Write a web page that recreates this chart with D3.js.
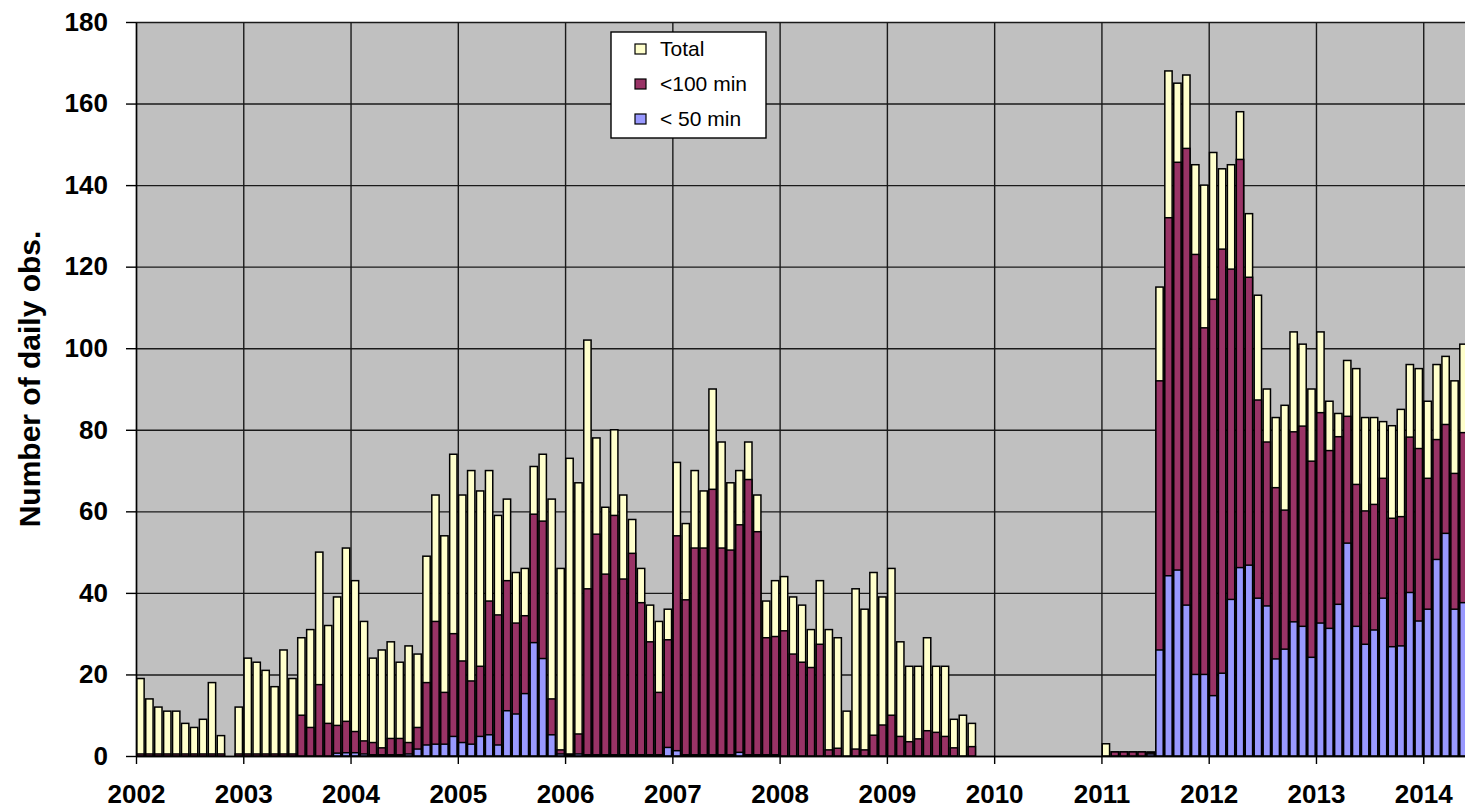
<!DOCTYPE html>
<html>
<head>
<meta charset="utf-8">
<script src="https://cdn.jsdelivr.net/npm/d3@7"></script>
<style>
  body { margin: 0; background: #fff; }
  text { font-family: "Liberation Sans", Arial, sans-serif; }
</style>
</head>
<body>
<div id="wrapper"></div>
<script>
// Monthly counts, Jan 2002 .. May 2014 (one row per year)
var firstYear = 2002
var yearTicks = [2002, 2003, 2004, 2005, 2006, 2007, 2008, 2009, 2010, 2011, 2012, 2013, 2014]
var yTicks = [0, 20, 40, 60, 80, 100, 120, 140, 160, 180]
var seriesNames = ["Total", "<100 min", "< 50 min"]

var total = [
  19, 14, 12, 11, 11, 8, 7, 9, 18, 5, 0, 12,
  24, 23, 21, 17, 26, 19, 29, 31, 50, 32, 39, 51,
  43, 33, 24, 26, 28, 23, 27, 25, 49, 64, 54, 74,
  64, 70, 65, 70, 59, 63, 45, 46, 71, 74, 63, 46,
  73, 67, 102, 78, 61, 80, 64, 58, 46, 37, 33, 36,
  72, 57, 70, 65, 90, 77, 67, 70, 77, 64, 38, 43,
  44, 39, 37, 31, 43, 31, 29, 11, 41, 36, 45, 39,
  46, 28, 22, 22, 29, 22, 22, 9, 10, 8, 0, 0,
  0, 0, 0, 0, 0, 0, 0, 0, 0, 0, 0, 0,
  3, 1, 1, 1, 1, 1, 115, 168, 165, 167, 145, 140,
  148, 144, 145, 158, 133, 113, 90, 83, 86, 104, 101, 90,
  104, 87, 84, 97, 95, 83, 83, 82, 81, 85, 96, 95,
  87, 96, 98, 92, 101
]

var under100 = [
  0.5, 0.5, 0.5, 0.5, 0.5, 0.5, 0.5, 0.5, 0.5, 0.5, 0, 0.5,
  0.5, 0.5, 0.5, 0.5, 0.5, 0.5, 10, 7, 17.5, 8, 7.5, 8.5,
  6, 3.7, 3.3, 2, 4.3, 4.3, 3.3, 7, 18, 33, 15.6, 30,
  23.3, 18.4, 22, 38, 34.6, 43, 32.6, 34.4, 59.3, 57.6, 14, 1.5,
  0.5, 5.4, 41, 54.4, 44.6, 59, 43.4, 49.7, 37.6, 28, 15.6, 28.5,
  54, 38.3, 51, 51, 65.4, 51, 50.5, 56.7, 67.8, 55, 29, 29.3,
  30.7, 25, 23, 21.7, 27.4, 1.5, 1.9, 0, 1.7, 1.5, 5.1, 7.6,
  10, 4.8, 3.5, 4.2, 6.2, 5.8, 4.8, 2, 0, 2.3, 0, 0,
  0, 0, 0, 0, 0, 0, 0, 0, 0, 0, 0, 0,
  0, 1, 1, 1, 1, 0.8, 92, 132, 145.6, 149, 123, 105,
  112, 124.3, 119.4, 146.3, 117.4, 87.3, 77, 65.8, 60.3, 79.5, 80.9, 72.3,
  84.2, 74.9, 78.3, 83.3, 66.6, 60.1, 61.7, 68.1, 58.3, 58.7, 78.2, 75.4,
  68.1, 77.6, 81.3, 69.3, 79.3
]

var under50 = [
  0, 0, 0, 0, 0, 0, 0, 0, 0, 0, 0, 0,
  0, 0, 0, 0, 0, 0, 0, 0, 0, 0, 0.7, 0.8,
  0.8, 0.5, 0.3, 0.3, 0.3, 0.3, 0.5, 1.7, 2.7, 2.9, 2.9, 4.8,
  3.3, 2.9, 4.8, 5.2, 2.7, 11.1, 10.3, 15.3, 27.8, 23.9, 5.2, 0.5,
  0.3, 0.5, 0.3, 0.3, 0.3, 0.3, 0.3, 0.3, 0.3, 0.3, 0.3, 2.1,
  1.3, 0.3, 0.3, 0.3, 0.3, 0.3, 0.3, 0.9, 0.3, 0.3, 0.3, 0.3,
  0, 0, 0, 0, 0, 0, 0, 0, 0, 0, 0, 0,
  0, 0, 0, 0, 0, 0, 0, 0, 0, 0, 0, 0,
  0, 0, 0, 0, 0, 0, 0, 0, 0, 0, 0, 0,
  0, 0, 0, 0, 0, 0.5, 26, 44.2, 45.6, 37, 20, 20,
  14.8, 20.3, 38.4, 46.2, 46.8, 38.7, 36.8, 23.8, 26.2, 32.9, 31.8, 24.2,
  32.6, 31.3, 37.2, 52.2, 31.8, 27.4, 30.9, 38.7, 26.8, 27, 40.1, 33.1,
  36, 48.2, 54.6, 36, 37.6
]

var color = d3.scaleOrdinal()
  .domain(seriesNames)
  .range(["#ffffcc", "#993366", "#9999ff"])

// Set the dimensions and margins of the graph
var margin = { top: 22, right: 0, bottom: 52, left: 136 },
  width = 1465 - margin.left - margin.right,
  height = 808 - margin.top - margin.bottom;

var svg = d3.select("#wrapper")
  .append("svg")
  .attr("width", width + margin.left + margin.right)
  .attr("height", height + margin.top + margin.bottom)

var g = svg.append("g")
  .attr("transform", "translate(" + margin.left + "," + margin.top + ")")

// the plot runs past the right edge of the picture
var x = d3.scaleLinear()
  .domain([2002, 2015])
  .range([0, 13 * 107.27])

var y = d3.scaleLinear()
  .domain([0, 180])
  .range([height, 0])

var plotRight = x(2015)
var slot = x(firstYear + 1 / 12) - x(firstYear)

g.append("rect")
  .attr("width", plotRight)
  .attr("height", height)
  .attr("fill", "#c0c0c0")

// Gridlines
g.append("g")
  .call(d3.axisLeft(y).tickValues(yTicks).tickSize(-plotRight).tickFormat(""))
  .call(g => g.select(".domain").remove())
  .selectAll("line")
  .attr("stroke", "#1a1a1a")
  .attr("stroke-width", 1.4)

g.append("g")
  .attr("transform", "translate(0," + height + ")")
  .call(d3.axisBottom(x).tickValues(yearTicks).tickSize(-height).tickFormat(""))
  .call(g => g.select(".domain").remove())
  .selectAll("line")
  .attr("stroke", "#1a1a1a")
  .attr("stroke-width", 1.4)

// Bars, drawn over each other: total, then <100, then <50
var series = [total, under100, under50]
series.forEach(function (values, k) {
  g.append("g")
    .selectAll("rect")
    .data(values.map(function (v, i) { return { i: i, v: v } }).filter(d => d.v > 0))
    .enter()
    .append("rect")
    .attr("x", d => x(firstYear + d.i / 12) + slot * 0.09)
    .attr("width", slot * 0.82)
    .attr("y", d => y(d.v))
    .attr("height", d => y(0) - y(d.v))
    .attr("fill", color(seriesNames[k]))
    .attr("stroke", "#000")
    .attr("stroke-width", 1.5)
})

// Axes
var yAxis = g.append("g")
  .call(d3.axisLeft(y).tickValues(yTicks).tickSize(10).tickSizeOuter(0).tickPadding(18))
yAxis.selectAll("text")
  .style("font-size", "26px")
  .style("font-weight", "bold")
  .attr("fill", "#000")

var xAxis = g.append("g")
  .attr("transform", "translate(0," + height + ")")
  .call(d3.axisBottom(x).tickValues(yearTicks).tickSize(8).tickSizeOuter(0).tickPadding(21).tickFormat(d3.format("d")))
xAxis.selectAll("text")
  .style("font-size", "26px")
  .style("font-weight", "bold")
  .attr("fill", "#000")

svg.selectAll(".domain, .tick line").filter(function () { return this.getAttribute("stroke") === "currentColor" })
  .attr("stroke-width", 1.4)

// Axis title
svg.append("text")
  .attr("transform", "translate(40," + 379 + ") rotate(-90)")
  .style("text-anchor", "middle")
  .style("font-size", "30px")
  .style("font-weight", "bold")
  .text("Number of daily obs.")

// Legend
var legend = svg.append("g")
  .attr("transform", "translate(611,32)")

legend.append("rect")
  .attr("width", 155)
  .attr("height", 106)
  .attr("fill", "#fff")
  .attr("stroke", "#000")
  .attr("stroke-width", 1.4)

var item = legend.selectAll(".item")
  .data(seriesNames)
  .enter()
  .append("g")
  .attr("class", "item")
  .attr("transform", function (d, i) { return "translate(0," + (17 + i * 35) + ")" })

item.append("rect")
  .attr("x", 24)
  .attr("y", -5)
  .attr("width", 11)
  .attr("height", 10)
  .attr("fill", d => color(d))
  .attr("stroke", "#000")
  .attr("stroke-width", 1.2)

item.append("text")
  .attr("x", 49)
  .attr("dy", "0.35em")
  .style("font-size", "21px")
  .text(d => d)
</script>
</body>
</html>
